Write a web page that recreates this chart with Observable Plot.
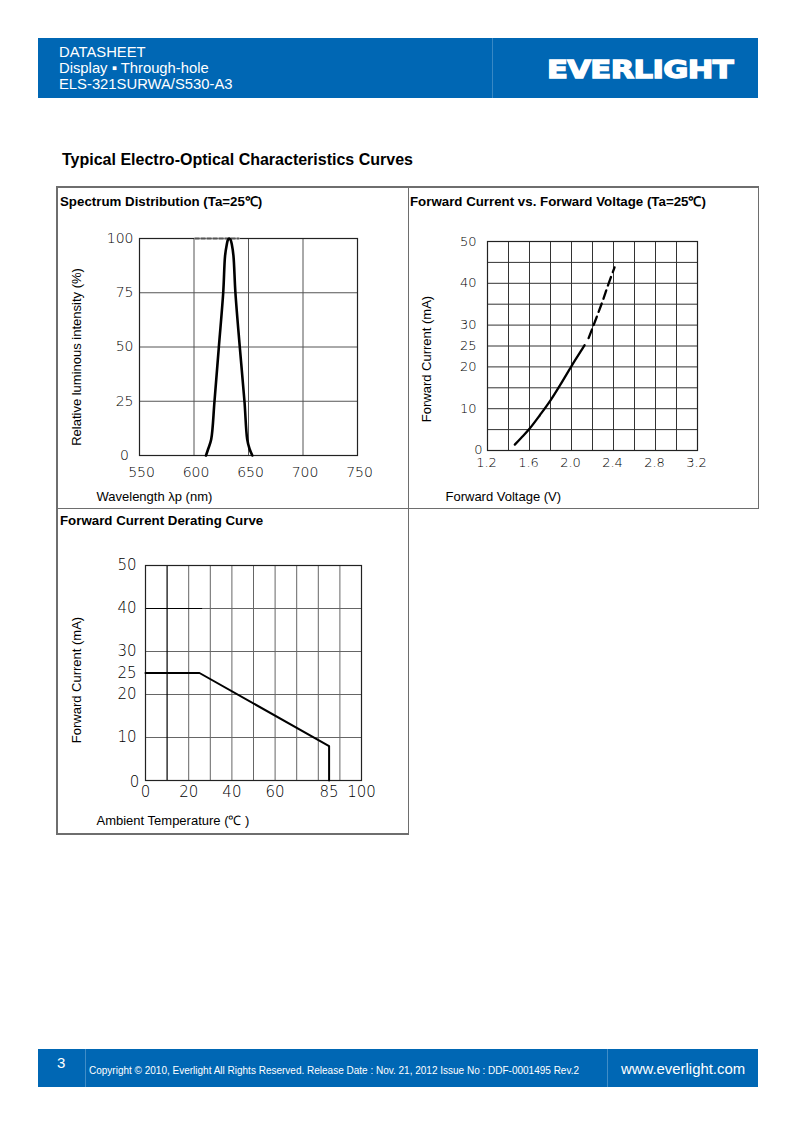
<!DOCTYPE html>
<html>
<head>
<meta charset="utf-8">
<script src="https://cdn.jsdelivr.net/npm/d3@7"></script>
<script src="https://cdn.jsdelivr.net/npm/@observablehq/plot@0.6"></script>
<style>
  body { margin: 0; background: #fff; }
  #page { position: relative; width: 793px; height: 1123px; overflow: hidden; font-family: "Liberation Sans", Arial, sans-serif; color: #000; }
  .abs { position: absolute; white-space: nowrap; }
  .band { background: #0067b4; }
  .white { color: #fff; }
  .ctitle { font-weight: bold; font-size: 13.3px; line-height: 16px; }
  .vline { position: absolute; background: #6e6e6e; width: 1.5px; }
  .hline { position: absolute; background: #6e6e6e; height: 1.5px; }
</style>
</head>
<body>
<div id="page">
  <div class="abs band" style="left:38px;top:38px;width:720px;height:60px;"></div>
  <div class="abs" style="left:492px;top:38px;width:1px;height:60px;background:rgba(255,255,255,0.22);"></div>
  <div class="abs white" style="left:59px;top:44px;font-size:14.8px;line-height:16px;">DATASHEET<br>Display ▪ Through-hole<br>ELS-321SURWA/S530-A3</div>
  <svg class="abs" style="left:540px;top:55px;" width="200" height="28">
    <text id="logo" x="0" y="23" fill="#fff" stroke="#fff" stroke-width="1.3" font-family="DejaVu Sans, Liberation Sans, sans-serif" font-weight="bold" font-size="24.5" letter-spacing="-0.5">EVERLIGHT</text>
  </svg>

  <div class="abs" style="left:62px;top:151px;font-size:16px;line-height:18px;font-weight:bold;">Typical Electro-Optical Characteristics Curves</div>

  <div class="abs ctitle" style="left:60px;top:194px;">Spectrum Distribution (Ta=25℃)</div>
  <div class="abs ctitle" style="left:410px;top:194px;">Forward Current vs. Forward Voltage (Ta=25℃)</div>
  <div class="abs ctitle" style="left:60px;top:513px;">Forward Current Derating Curve</div>

  <div class="abs band" style="left:38px;top:1049px;width:720px;height:38px;"></div>
  <div class="abs" style="left:85px;top:1049px;width:1px;height:38px;background:rgba(255,255,255,0.25);"></div>
  <div class="abs" style="left:607px;top:1049px;width:1px;height:38px;background:rgba(255,255,255,0.25);"></div>
  <div class="abs white" style="left:57px;top:1055px;font-size:15px;line-height:16px;">3</div>
  <div class="abs white" style="left:89px;top:1065px;font-size:10px;line-height:12px;">Copyright © 2010, Everlight All Rights Reserved. Release Date : Nov. 21, 2012 Issue No : DDF-0001495 Rev.2</div>
  <div class="abs white" style="left:621px;top:1061px;font-size:14.9px;line-height:16px;">www.everlight.com</div>
</div>
<script>
// ---------- Data ----------
// Spectrum distribution
const spectrumWavelength = [611, 613, 615.8, 618.8, 622.8, 626.8, 628.5, 630.0, 631.2, 632.3, 633.5, 634.8, 636.2, 638.0, 642.0, 646.3, 648.8, 651.0, 653.5];
const spectrumIntensity  = [0,   3,   7.5,   25,    50,    75,    92,    97,    99.5,  100,   99.5,  97,    92,    75,    50,    25,    7.5,   3,     0];
const spectrumDashWavelength = [601, 641];
const spectrumDashIntensity  = [100, 100];
const spectrumTicksX = [550, 600, 650, 700, 750];
const spectrumTicksY = [0, 25, 50, 75, 100];
const spectrumGridX = [600, 650, 700];
const spectrumGridY = [25, 50, 75];

// Forward current vs forward voltage
const ivVoltageSolid = [1.46, 1.52, 1.6, 1.7, 1.8, 1.9, 2.0, 2.1, 2.125];
const ivCurrentSolid = [1.4,  3.0,  5.2, 8.5, 12.0, 16.0, 20.2, 24.2, 25.2];
const ivVoltageDash  = [2.163, 2.2, 2.25, 2.3, 2.35, 2.41];
const ivCurrentDash  = [26.9,  29.3, 32.6, 36.0, 39.7, 43.8];
const ivTicksX = [1.2, 1.6, 2.0, 2.4, 2.8, 3.2];
const ivTicksY = [10, 20, 25, 30, 40, 50];
const ivGridX = [1.4, 1.6, 1.8, 2.0, 2.2, 2.4, 2.6, 2.8, 3.0];
const ivGridY = [5, 10, 15, 20, 25, 30, 35, 40, 45];

// Derating curve
const deratingTemp    = [0, 25, 85, 85];
const deratingCurrent = [25, 25, 8, 0];
const deratingTicksX = [0, 20, 40, 60, 85, 100];
const deratingTicksY = [10, 20, 25, 30, 40, 50];
const deratingGridX = [20, 30, 40, 50, 60, 70, 80, 90];
const deratingGridXDark = [10];
const deratingGridY = [10, 20, 30, 40];
const deratingMarkTemp = [0, 26];
const deratingMarkCurrent = [40, 40];

// ---------- Helpers ----------
const page = document.getElementById("page");
function place(el, left, top) {
  el.style.position = "absolute";
  el.style.left = left + "px";
  el.style.top = top + "px";
  page.appendChild(el);
}
const zip = (xs, ys) => xs.map((x, i) => ({x, y: ys[i]}));
const tickFont = {fontFamily: "DejaVu Sans, sans-serif", fontWeight: 200, fill: "#000"};
const baseStyle = {background: "transparent", overflow: "visible", fontFamily: "Liberation Sans, Arial, sans-serif", fontSize: "13px", color: "#000"};

// ---------- Spectrum ----------
const spec = Plot.plot({
  width: 352, height: 322,
  marginLeft: 83, marginRight: 51, marginTop: 52, marginBottom: 53,
  x: {domain: [550, 750]},
  y: {domain: [0, 100]},
  style: baseStyle,
  marks: [
    Plot.ruleX(spectrumGridX, {stroke: "#555", strokeWidth: 1}),
    Plot.ruleY(spectrumGridY, {stroke: "#555", strokeWidth: 1}),
    Plot.frame({stroke: "#222", strokeWidth: 1.2}),
    Plot.line(zip(spectrumDashWavelength, spectrumDashIntensity), {x: "x", y: "y", stroke: "#fff", strokeWidth: 2}),
    Plot.line(zip(spectrumDashWavelength, spectrumDashIntensity), {x: "x", y: "y", stroke: "#555", strokeWidth: 1.8, strokeDasharray: "4,2"}),
    Plot.line(zip(spectrumWavelength, spectrumIntensity), {x: "x", y: "y", curve: "catmull-rom", stroke: "#000", strokeWidth: 2.6}),
    Plot.axisX({ticks: spectrumTicksX, tickSize: 0, tickPadding: 12, label: null, fontSize: 14, dx: 2, ...tickFont}),
    Plot.axisY({ticks: spectrumTicksY.filter(d => d !== 0), tickSize: 0, tickPadding: 6, label: null, fontSize: 14, ...tickFont}),
    Plot.text([0], {x: 550, y: d => d, text: d => String(d), dx: -15, fontSize: 14, ...tickFont}),
    Plot.text(["Relative luminous intensity (%)"], {frameAnchor: "left", textAnchor: "middle", lineAnchor: "middle", rotate: -90, dx: -63, dy: 10, fontSize: 13}),
    Plot.text(["Wavelength λp (nm)"], {frameAnchor: "bottom-left", textAnchor: "start", lineAnchor: "middle", dx: -43, dy: 41, fontSize: 13})
  ]
});
place(spec, 56, 186);

// ---------- IV ----------
const iv = Plot.plot({
  width: 350, height: 322,
  marginLeft: 79, marginRight: 61, marginTop: 55, marginBottom: 58,
  x: {domain: [1.2, 3.2]},
  y: {domain: [0, 50]},
  style: baseStyle,
  marks: [
    Plot.ruleX(ivGridX, {stroke: "#333", strokeWidth: 1}),
    Plot.ruleY(ivGridY, {stroke: "#333", strokeWidth: 1}),
    Plot.frame({stroke: "#222", strokeWidth: 1.2}),
    Plot.line(zip(ivVoltageSolid, ivCurrentSolid), {x: "x", y: "y", curve: "catmull-rom", stroke: "#000", strokeWidth: 2.3}),
    Plot.line(zip(ivVoltageDash, ivCurrentDash), {x: "x", y: "y", curve: "catmull-rom", stroke: "#000", strokeWidth: 2.3, strokeDasharray: "9,5"}),
    Plot.axisX({ticks: ivTicksX, tickFormat: d => d.toFixed(1), tickSize: 0, tickPadding: 7, label: null, fontSize: 13, dx: -1, ...tickFont}),
    Plot.axisY({ticks: ivTicksY, tickSize: 0, tickPadding: 11, label: null, fontSize: 13, ...tickFont}),
    Plot.text([0], {x: 1.2, y: d => d, text: d => String(d), dx: -9, dy: -1, fontSize: 13, ...tickFont}),
    Plot.text(["Forward Current (mA)"], {frameAnchor: "left", textAnchor: "middle", lineAnchor: "middle", rotate: -90, dx: -61, dy: 13, fontSize: 13}),
    Plot.text(["Forward Voltage (V)"], {frameAnchor: "bottom-left", textAnchor: "start", lineAnchor: "middle", dx: -42, dy: 46, fontSize: 13})
  ]
});
place(iv, 408, 186);

// ---------- Derating ----------
const der = Plot.plot({
  width: 352, height: 326,
  marginLeft: 89, marginRight: 47, marginTop: 57, marginBottom: 54,
  x: {domain: [0, 100]},
  y: {domain: [0, 50]},
  style: baseStyle,
  marks: [
    Plot.ruleX(deratingGridX, {stroke: "#666", strokeWidth: 1}),
    Plot.ruleY(deratingGridY, {stroke: "#666", strokeWidth: 1}),
    Plot.ruleX(deratingGridXDark, {stroke: "#000", strokeWidth: 1.2}),
    Plot.line(zip(deratingMarkTemp, deratingMarkCurrent), {x: "x", y: "y", stroke: "#000", strokeWidth: 1.2}),
    Plot.frame({stroke: "#222", strokeWidth: 1.2}),
    Plot.line(zip(deratingTemp, deratingCurrent), {x: "x", y: "y", stroke: "#000", strokeWidth: 2}),
    Plot.axisX({ticks: deratingTicksX, tickSize: 0, tickPadding: 6, label: null, fontSize: 15, ...tickFont}),
    Plot.axisY({ticks: deratingTicksY, tickSize: 0, tickPadding: 9, label: null, fontSize: 15, ...tickFont}),
    Plot.text([0], {x: 0, y: d => d, text: d => String(d), dx: -11, dy: 2, fontSize: 15, ...tickFont}),
    Plot.text(["Forward Current (mA)"], {frameAnchor: "left", textAnchor: "middle", lineAnchor: "middle", rotate: -90, dx: -69, dy: 7, fontSize: 13}),
    Plot.text(["Ambient Temperature (℃ )"], {frameAnchor: "bottom-left", textAnchor: "start", lineAnchor: "middle", dx: -49, dy: 40, fontSize: 13})
  ]
});
place(der, 56, 508);

// ---------- Table borders ----------
function line(cls, left, top, len) {
  const d = document.createElement("div");
  d.className = cls;
  d.style.left = left + "px";
  d.style.top = top + "px";
  if (cls === "vline") d.style.height = len + "px"; else d.style.width = len + "px";
  page.appendChild(d);
}
line("hline", 56, 186, 703);
line("vline", 56, 186, 649);
line("vline", 407.5, 186, 649);
line("vline", 757.5, 186, 323);
line("hline", 56, 507.5, 703);
line("hline", 56, 833, 353);

// ---------- Logo width fit ----------
const logo = document.getElementById("logo");
const w = logo.getComputedTextLength();
if (w > 0) logo.setAttribute("transform", `translate(7,0) scale(${(186 / w).toFixed(4)},1)`);
</script>
</body>
</html>
